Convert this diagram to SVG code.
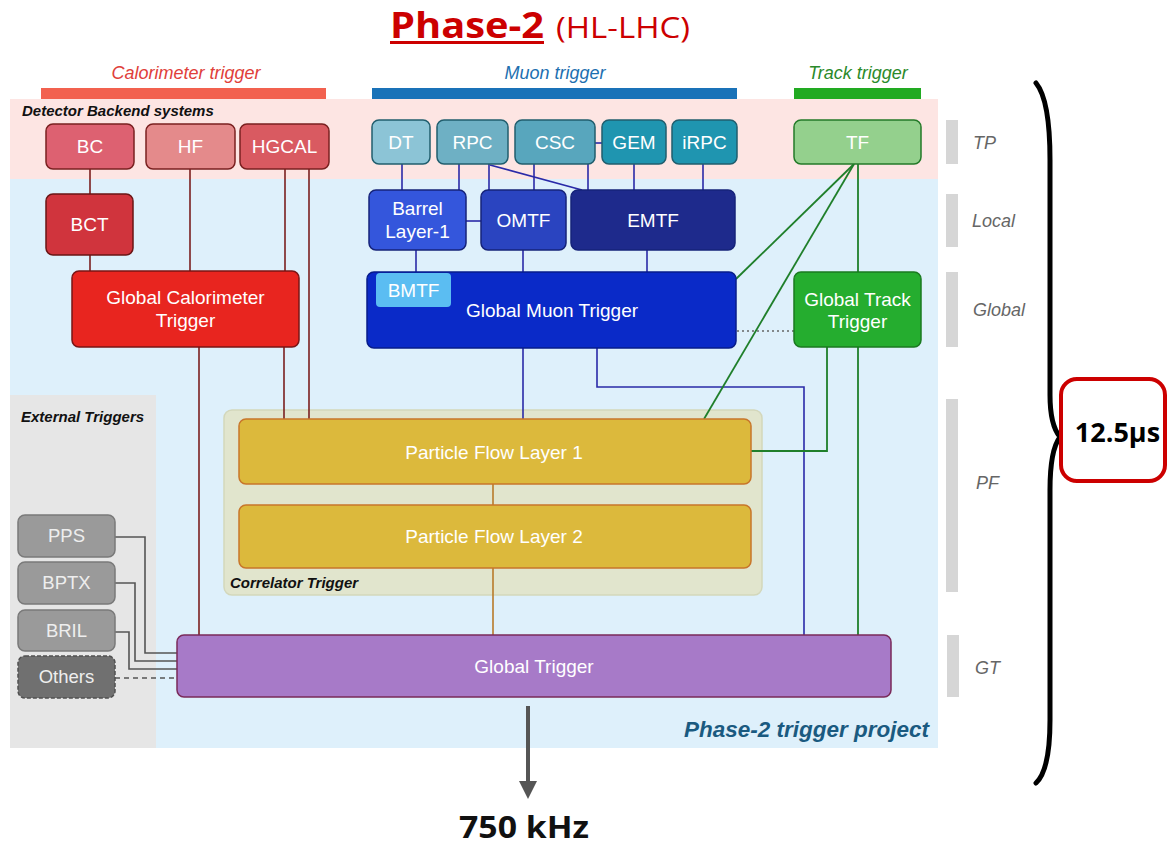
<svg xmlns="http://www.w3.org/2000/svg" width="1167" height="850" viewBox="0 0 1167 850">
  <defs>
    <style>
      .t { font-family: "Liberation Sans", Arial, sans-serif; font-size: 19px; fill: #ffffff; text-anchor: middle; }
      .hdr { font-family: "Liberation Sans", Arial, sans-serif; font-size: 15px; font-weight: bold; font-style: italic; fill: #111111; }
      .cat { font-family: "Liberation Sans", Arial, sans-serif; font-size: 18px; font-style: italic; text-anchor: middle; }
      .lvl { font-family: "Liberation Sans", Arial, sans-serif; font-size: 18px; font-style: italic; fill: #666666; }
      .big { font-family: "Open Sans", "Liberation Sans", sans-serif; font-weight: bold; }
      .calo { stroke: #7a2020; stroke-width: 1.5; }
      .muon { stroke: #215e6e; stroke-width: 1.5; }
      .mloc { stroke: #16237a; stroke-width: 1.5; }
      .trk  { stroke: #237a28; stroke-width: 1.5; }
      .pf   { fill: #dcb93c; stroke: #c8762a; stroke-width: 1.5; }
      .ext  { fill: #9a9a9a; stroke: #7a7a7a; stroke-width: 1.5; }
      .ext-t { font-family: "Liberation Sans", Arial, sans-serif; font-size: 18.5px; fill: #eeeeee; text-anchor: middle; }
      .bar { fill: #d6d6d6; }
      .c-calo { fill: none; stroke: #7a1f1f; stroke-width: 1.6; }
      .c-muon { fill: none; stroke: #2a2aa8; stroke-width: 1.6; }
      .c-trk  { fill: none; stroke: #1f7f2a; stroke-width: 1.8; }
      .c-pf   { fill: none; stroke: #b87a2a; stroke-width: 1.6; }
      .c-ext  { fill: none; stroke: #555555; stroke-width: 1.6; }
    </style>
    <!-- downward output arrowhead, drawn along +x so orient="auto" follows the line -->
    <marker id="arrowhead" viewBox="0 0 10 10" refX="0" refY="5" markerWidth="25" markerHeight="18" markerUnits="userSpaceOnUse" orient="auto">
      <path d="M0,0 L10,5 L0,10 Z" fill="#555555"/>
    </marker>
  </defs>

  <!-- title -->
  <g id="title">
    <text x="390" y="38" class="big" font-size="36" fill="#cc0000" textLength="154" lengthAdjust="spacingAndGlyphs">Phase-2</text>
    <rect x="390" y="41" width="154" height="3" fill="#cc0000"/>
    <text x="556" y="38" font-family="'Open Sans', 'Liberation Sans', sans-serif" font-size="30" fill="#cc0000" textLength="134" lengthAdjust="spacingAndGlyphs">(HL-LHC)</text>
  </g>

  <!-- trigger category headers -->
  <g id="categories">
    <text x="186" y="79" class="cat" fill="#e0403a">Calorimeter trigger</text>
    <rect x="41" y="88" width="285" height="11" fill="#f2614f"/>
    <text x="555" y="79" class="cat" fill="#1d6fb0">Muon trigger</text>
    <rect x="372" y="88" width="365" height="11" fill="#1a72b8"/>
    <text x="858" y="79" class="cat" fill="#2a8a2a">Track trigger</text>
    <rect x="794" y="88" width="127" height="11" fill="#22aa22"/>
  </g>

  <!-- background regions -->
  <g id="regions">
    <rect x="10" y="99" width="928" height="80" fill="#fde5e3"/>
    <rect x="10" y="179" width="928" height="569" fill="#def0fb"/>
    <rect x="10" y="395" width="146" height="353" fill="#e6e6e6"/>
    <text x="22" y="116" class="hdr">Detector Backend systems</text>
    <text x="21" y="422" class="hdr">External Triggers</text>
    <text x="929" y="737" font-family="'Liberation Sans', Arial, sans-serif" font-size="22.5" font-weight="bold" font-style="italic" fill="#1a5a80" text-anchor="end">Phase-2 trigger project</text>
  </g>

  <!-- correlator container -->
  <g id="correlator">
    <rect x="224" y="410" width="538" height="185" rx="8" fill="#e1e5cd" stroke="#d3d7bb" stroke-width="1.5"/>
    <text x="230" y="588" class="hdr">Correlator Trigger</text>
  </g>

  <!-- connectors -->
  <g id="connectors">
    <!-- calorimeter -->
    <path class="c-calo" d="M90,169 V194"/>
    <path class="c-calo" d="M90,255 V271"/>
    <path class="c-calo" d="M190,169 V271"/>
    <path class="c-calo" d="M285,169 V271"/>
    <path class="c-calo" d="M309,169 V419"/>
    <path class="c-calo" d="M284,347 V419"/>
    <path class="c-calo" d="M199,347 V635"/>
    <!-- muon -->
    <path class="c-muon" d="M402,164 V190"/>
    <path class="c-muon" d="M459,164 V190"/>
    <path class="c-muon" d="M489,164 V190"/>
    <path class="c-muon" d="M490,165 L582,190"/>
    <path class="c-muon" d="M534,164 V190"/>
    <path class="c-muon" d="M588,164 V190"/>
    <path class="c-muon" d="M634,164 V190"/>
    <path class="c-muon" d="M703,164 V190"/>
    <path class="c-muon" d="M595,143 H602"/>
    <path class="c-muon" d="M466,221 H481"/>
    <path class="c-muon" d="M416,250 V272"/>
    <path class="c-muon" d="M523,250 V272"/>
    <path class="c-muon" d="M647,250 V272"/>
    <path class="c-muon" d="M523,348 V419"/>
    <path class="c-muon" d="M597,348 V387 H804 V635"/>
    <!-- track -->
    <path class="c-trk" d="M858,164 V272"/>
    <path class="c-trk" d="M854,164 L736,279"/>
    <path class="c-trk" d="M854,164 L704,419"/>
    <path class="c-trk" d="M827,347 V451 H751"/>
    <path class="c-trk" d="M858,347 V635"/>
    <path d="M737,331 H794" fill="none" stroke="#666666" stroke-width="1.3" stroke-dasharray="2,3"/>
    <!-- correlator -->
    <path class="c-pf" d="M493,484 V505"/>
    <path class="c-pf" d="M493,568 V635"/>
    <!-- external -->
    <path class="c-ext" d="M115,537 H145 V653 H177"/>
    <path class="c-ext" d="M115,583 H135 V661 H177"/>
    <path class="c-ext" d="M115,632 H129 V669 H177"/>
    <path class="c-ext" d="M115,678 H177" stroke-dasharray="5,4"/>
    <!-- output -->
    <path d="M528,706 V781" fill="none" stroke="#555555" stroke-width="4" marker-end="url(#arrowhead)"/>
  </g>

  <!-- calorimeter nodes -->
  <g id="node-bc">
    <rect x="46" y="124" width="88" height="45" rx="7" fill="#dd6171" class="calo"/>
    <text x="90" y="153" class="t">BC</text>
  </g>
  <g id="node-hf">
    <rect x="146" y="124" width="89" height="45" rx="7" fill="#e48a8b" class="calo"/>
    <text x="190.5" y="153" class="t">HF</text>
  </g>
  <g id="node-hgcal">
    <rect x="240" y="124" width="89" height="45" rx="7" fill="#d95a61" class="calo"/>
    <text x="284.5" y="153" class="t" font-size="18">HGCAL</text>
  </g>
  <g id="node-bct">
    <rect x="46" y="194" width="87" height="61" rx="7" fill="#d0343d" stroke="#6a1515" stroke-width="1.5"/>
    <text x="89.5" y="231" class="t">BCT</text>
  </g>
  <g id="node-gct">
    <rect x="72" y="271" width="227" height="76" rx="7" fill="#e8251f" stroke="#7a1515" stroke-width="1.5"/>
    <text x="185.5" y="304" class="t">Global Calorimeter</text>
    <text x="185.5" y="327" class="t">Trigger</text>
  </g>

  <!-- muon nodes -->
  <g id="node-dt">
    <rect x="372" y="120" width="58" height="44" rx="7" fill="#8cc4d6" class="muon"/>
    <text x="401" y="149" class="t">DT</text>
  </g>
  <g id="node-rpc">
    <rect x="437" y="120" width="71" height="44" rx="7" fill="#6eb0c4" class="muon"/>
    <text x="472.5" y="149" class="t">RPC</text>
  </g>
  <g id="node-csc">
    <rect x="515" y="120" width="80" height="44" rx="7" fill="#58a6bd" class="muon"/>
    <text x="555" y="149" class="t">CSC</text>
  </g>
  <g id="node-gem">
    <rect x="602" y="120" width="64" height="44" rx="7" fill="#1f95b0" class="muon"/>
    <text x="634" y="149" class="t">GEM</text>
  </g>
  <g id="node-irpc">
    <rect x="672" y="120" width="65" height="44" rx="7" fill="#1f95b0" class="muon"/>
    <text x="704.5" y="149" class="t">iRPC</text>
  </g>
  <g id="node-barrel">
    <rect x="369" y="190" width="97" height="60" rx="7" fill="#3456dc" class="mloc"/>
    <text x="417.5" y="215" class="t">Barrel</text>
    <text x="417.5" y="238" class="t">Layer-1</text>
  </g>
  <g id="node-omtf">
    <rect x="481" y="190" width="85" height="60" rx="7" fill="#2a44c0" class="mloc"/>
    <text x="523.5" y="227" class="t">OMTF</text>
  </g>
  <g id="node-emtf">
    <rect x="571" y="190" width="164" height="60" rx="7" fill="#1e2a8c" class="mloc"/>
    <text x="653" y="227" class="t">EMTF</text>
  </g>
  <g id="node-gmt">
    <rect x="367" y="272" width="369" height="76" rx="7" fill="#0a2ac8" stroke="#071c8a" stroke-width="1.5"/>
    <rect x="376" y="273" width="75" height="34" rx="4" fill="#5bbdf2"/>
    <text x="413.5" y="297" class="t">BMTF</text>
    <text x="552" y="317" class="t">Global Muon Trigger</text>
  </g>

  <!-- track nodes -->
  <g id="node-tf">
    <rect x="794" y="120" width="127" height="44" rx="7" fill="#94d08d" class="trk"/>
    <text x="857.5" y="149" class="t">TF</text>
  </g>
  <g id="node-gtt">
    <rect x="794" y="272" width="127" height="75" rx="7" fill="#25ad2f" stroke="#1a7a20" stroke-width="1.5"/>
    <text x="857.5" y="306" class="t">Global Track</text>
    <text x="857.5" y="328" class="t">Trigger</text>
  </g>

  <!-- correlator nodes -->
  <g id="node-pf1">
    <rect x="239" y="419" width="512" height="65" rx="7" class="pf"/>
    <text x="494" y="459" class="t">Particle Flow Layer 1</text>
  </g>
  <g id="node-pf2">
    <rect x="239" y="505" width="512" height="63" rx="7" class="pf"/>
    <text x="494" y="543" class="t">Particle Flow Layer 2</text>
  </g>

  <!-- global trigger -->
  <g id="node-gt">
    <rect x="177" y="635" width="714" height="62" rx="7" fill="#a77ac8" stroke="#7a2a5a" stroke-width="1.5"/>
    <text x="534" y="673" class="t">Global Trigger</text>
  </g>

  <!-- external triggers -->
  <g id="node-pps">
    <rect x="18" y="515" width="97" height="42" rx="7" class="ext"/>
    <text x="66.5" y="542" class="ext-t">PPS</text>
  </g>
  <g id="node-bptx">
    <rect x="18" y="562" width="97" height="42" rx="7" class="ext"/>
    <text x="66.5" y="589" class="ext-t">BPTX</text>
  </g>
  <g id="node-bril">
    <rect x="18" y="610" width="97" height="41" rx="7" class="ext"/>
    <text x="66.5" y="637" class="ext-t">BRIL</text>
  </g>
  <g id="node-others">
    <rect x="18" y="656" width="97" height="42" rx="7" fill="#707070" stroke="#505050" stroke-width="1.5" stroke-dasharray="4,2"/>
    <text x="66.5" y="683" class="ext-t">Others</text>
  </g>

  <!-- latency stages -->
  <g id="stages">
    <rect x="946" y="120" width="12" height="44" class="bar"/>
    <text x="973" y="149" class="lvl">TP</text>
    <rect x="946" y="194" width="12" height="53" class="bar"/>
    <text x="972" y="227" class="lvl">Local</text>
    <rect x="946" y="272" width="12" height="75" class="bar"/>
    <text x="973" y="316" class="lvl">Global</text>
    <rect x="946" y="399" width="12" height="193" class="bar"/>
    <text x="976" y="489" class="lvl">PF</text>
    <rect x="947" y="635" width="12" height="62" class="bar"/>
    <text x="975" y="674" class="lvl">GT</text>
  </g>

  <!-- latency brace and budget -->
  <g id="latency">
    <path d="M1036,83 Q1050,100 1050,160 L1050,395 Q1050,425 1060,437 Q1050,450 1050,490 L1050,720 Q1050,770 1036,783" fill="none" stroke="#000000" stroke-width="5" stroke-linecap="round" stroke-linejoin="round"/>
    <rect x="1061" y="379" width="104" height="102" rx="16" fill="#ffffff" stroke="#cc0000" stroke-width="4"/>
    <text x="1117.5" y="442" class="big" font-size="27" fill="#000000" text-anchor="middle">12.5µs</text>
  </g>

  <!-- output rate -->
  <text x="524" y="838" class="big" font-size="30" fill="#111111" text-anchor="middle" textLength="130" lengthAdjust="spacingAndGlyphs">750 kHz</text>
</svg>
